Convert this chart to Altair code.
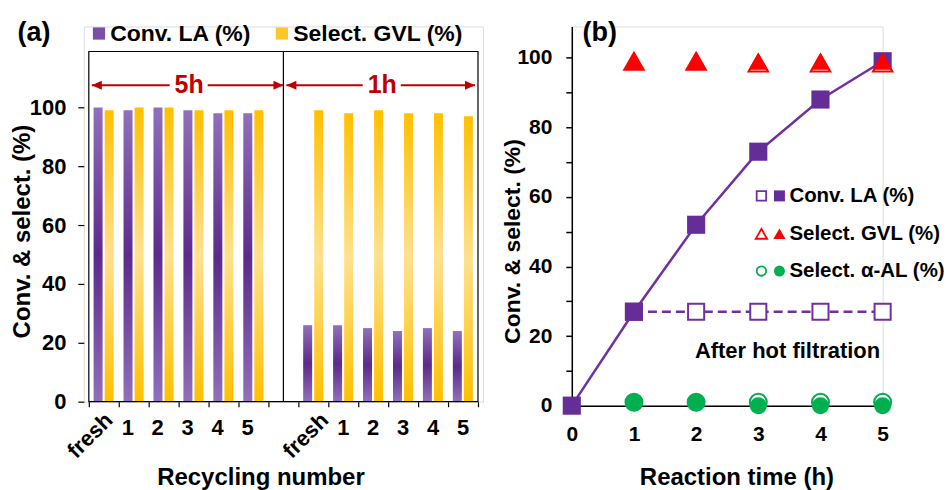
import altair as alt
import pandas as pd

# ---------------- data ----------------
categories = ["fresh", "1", "2", "3", "4", "5"]
groups = ["5h", "1h"]
conv_la_5h = [100, 99, 100, 99, 98, 98]
select_gvl_5h = [99, 100, 100, 99, 99, 99]
conv_la_1h = [26, 26, 25, 24, 25, 24]
select_gvl_1h = [99, 98, 99, 98, 98, 97]

time_h = [0, 1, 2, 3, 4, 5]
conv_la_time = [0, 27, 52, 73, 88, 99]
hot_time = [1, 2, 3, 4, 5]
conv_la_hot = [27, 27, 27, 27, 27]
sel_time = [1, 2, 3, 4, 5]
select_gvl_filled = [99, 99, 99, 99, 99]
select_gvl_open = [99, 99, 98.5, 98.5, 98.5]
select_al_filled = [1, 1, 0, 0, 0]
select_al_open = [1, 1, 1, 1, 1]

legend_a_labels = ["Conv. LA (%)", "Select. GVL (%)"]
legend_b_labels = ["Conv. LA (%)", "Select. GVL (%)", "Select. α-AL (%)"]

# ---------------- style ----------------
FONT = "Liberation Sans"
PURPLE = "#652d98"
PURPLE_LINE = "#7030a0"
RED = "#ff0000"
GREEN = "#00b050"
DARKRED = "#c00000"

purple_grad = alt.Gradient(
    gradient="linear", x1=0, y1=0, x2=0, y2=1,
    stops=[alt.GradientStop(color="#9070bb", offset=0),
           alt.GradientStop(color="#5c2a8c", offset=0.5),
           alt.GradientStop(color="#9070bb", offset=1)])
yellow_grad = alt.Gradient(
    gradient="linear", x1=0, y1=0, x2=0, y2=1,
    stops=[alt.GradientStop(color="#ffc000", offset=0),
           alt.GradientStop(color="#ffe18e", offset=0.5),
           alt.GradientStop(color="#ffc000", offset=1)])

# ---------------- panel (a) ----------------
SLOT = len(categories) + 1
N_SLOTS = SLOT * len(groups) - 1
FRAME_TOP = 119
ARROW_Y = 107.5
LEG_Y = 125.1

conv_rows, sel_rows, num_rows, fresh_rows = [], [], [], []
for gi, (conv, sel) in enumerate(zip([conv_la_5h, conv_la_1h], [select_gvl_5h, select_gvl_1h])):
    lab_off = 0.3 if gi == 0 else 0.5
    for ci, c in enumerate(categories):
        slot = gi * SLOT + ci
        conv_rows.append({"x": slot + 0.31, "y": conv[ci]})
        sel_rows.append({"x": slot + 0.68, "y": sel[ci]})
        if c == "fresh":
            fresh_rows.append({"x": slot + lab_off + 0.38, "label": c})
        else:
            num_rows.append({"x": slot + lab_off, "label": c})

conv_df = pd.DataFrame(conv_rows)
sel_df = pd.DataFrame(sel_rows)
num_df = pd.DataFrame(num_rows)
fresh_df = pd.DataFrame(fresh_rows)

arrow_seg, arrow_l, arrow_r, arrow_txt = [], [], [], []
for gi, g in enumerate(groups):
    start = gi * SLOT + (0.1 if gi == 0 else -0.4)
    end = gi * SLOT + SLOT - 0.5 if gi == 0 else N_SLOTS - 0.1
    mid = (start + end) / 2 + 0.05
    arrow_seg.append({"x": start, "x2": mid - 0.65, "y": ARROW_Y})
    arrow_seg.append({"x": mid + 0.62, "x2": end, "y": ARROW_Y})
    arrow_l.append({"x": start, "y": ARROW_Y})
    arrow_r.append({"x": end, "y": ARROW_Y})
    arrow_txt.append({"x": mid, "y": ARROW_Y, "label": g})

xs_a = alt.Scale(domain=[0, N_SLOTS], nice=False, zero=False)
ys_a = alt.Scale(domain=[0, 127.5], nice=False, zero=False)
x_axis_a = alt.Axis(values=list(range(N_SLOTS + 1)), labels=False, domain=False,
                    tickSize=5, tickColor="black", tickWidth=1.2, grid=False,
                    title="Recycling number", titleFontSize=24, titleFont=FONT,
                    titleFontWeight="bold", titleColor="black",
                    titleX=177, titleY=83, titleBaseline="alphabetic")
y_axis_a = alt.Axis(values=[0, 20, 40, 60, 80, 100], domain=False, grid=False,
                    tickSize=6, tickColor="black", tickWidth=1.2,
                    labelFontSize=22, labelFont=FONT, labelFontWeight="bold",
                    labelColor="black", labelPadding=12,
                    title="Conv. & select. (%)", titleFontSize=24, titleFont=FONT,
                    titleFontWeight="bold", titleColor="black", titleAngle=270,
                    titleX=-61, titleY=205, titleBaseline="middle", titleAlign="center")


def XA(f="x"):
    return alt.X(f, type="quantitative", scale=xs_a, axis=x_axis_a)


def YA(f="y"):
    return alt.Y(f, type="quantitative", scale=ys_a, axis=y_axis_a)


frame = alt.Chart(pd.DataFrame({"x": [0], "x2": [N_SLOTS], "y": [0], "y2": [FRAME_TOP]})).mark_rect(
    fillOpacity=0, stroke="black", strokeWidth=1.2).encode(
    x=XA(), x2="x2", y=YA(), y2="y2")

divider = alt.Chart(pd.DataFrame({"x": [SLOT - 0.5], "y": [0], "y2": [FRAME_TOP]})).mark_rule(
    color="black", strokeWidth=1.2).encode(x=XA(), y=YA(), y2="y2")

bars_conv = alt.Chart(conv_df).mark_bar(size=9, fill=purple_grad).encode(x=XA(), y=YA())
bars_sel = alt.Chart(sel_df).mark_bar(size=9, fill=yellow_grad).encode(x=XA(), y=YA())

arrow_lines = alt.Chart(pd.DataFrame(arrow_seg)).mark_rule(color=DARKRED, strokeWidth=2).encode(
    x=XA(), x2="x2", y=YA())
head_left = alt.Chart(pd.DataFrame(arrow_l)).mark_point(
    shape="M0,0L1,-0.45L1,0.45Z", filled=True, fill=DARKRED, strokeWidth=0, size=400, opacity=1).encode(
    x=XA(), y=YA())
head_right = alt.Chart(pd.DataFrame(arrow_r)).mark_point(
    shape="M0,0L-1,-0.45L-1,0.45Z", filled=True, fill=DARKRED, strokeWidth=0, size=400, opacity=1).encode(
    x=XA(), y=YA())
arrow_text = alt.Chart(pd.DataFrame(arrow_txt)).mark_text(
    font=FONT, fontWeight="bold", fontSize=25, color=DARKRED, align="center", baseline="middle").encode(
    x=XA(), y=YA(), text="label:N")

leg_a_df = pd.DataFrame({"x": [0.34, 6.45], "tx": [0.715, 6.83], "y": [LEG_Y, LEG_Y],
                         "label": legend_a_labels})
leg_a_sq1 = alt.Chart(leg_a_df.iloc[[0]]).mark_point(
    shape="square", filled=True, fill="#7a4ea8", size=150, opacity=1, strokeWidth=0).encode(x=XA(), y=YA())
leg_a_sq2 = alt.Chart(leg_a_df.iloc[[1]]).mark_point(
    shape="square", filled=True, fill="#ffc82a", size=150, opacity=1, strokeWidth=0).encode(x=XA(), y=YA())
leg_a_txt = alt.Chart(leg_a_df).mark_text(
    font=FONT, fontWeight="bold", fontSize=23, color="black", align="left", baseline="middle").encode(
    x=XA("tx"), y=YA(), text="label:N")

num_labels = alt.Chart(num_df).mark_text(
    font=FONT, fontWeight="bold", fontSize=22, color="black", align="center", baseline="middle").encode(
    x=XA(), y=alt.value(402), text="label:N")
fresh_labels = alt.Chart(fresh_df).mark_text(
    font=FONT, fontWeight="bold", fontSize=22, color="black", align="right", baseline="middle",
    angle=315).encode(x=XA(), y=alt.value(391), text="label:N")

label_a = alt.Chart(pd.DataFrame({"t": ["(a)"]})).mark_text(
    font=FONT, fontWeight="bold", fontSize=27, color="black", align="center", baseline="middle").encode(
    x=alt.value(-50), y=alt.value(7), text="t:N")

panel_a = alt.layer(
    bars_conv, bars_sel, frame, divider, arrow_lines, head_left, head_right, arrow_text,
    leg_a_sq1, leg_a_sq2, leg_a_txt, num_labels, fresh_labels, label_a
).properties(width=400, height=376)

# ---------------- panel (b) ----------------
xs_b = alt.Scale(domain=[0, 5], nice=False, zero=False)
ys_b = alt.Scale(domain=[0, 109], nice=False, zero=False)
x_axis_b = alt.Axis(values=[0, 1, 2, 3, 4, 5], grid=False, domainColor="black", domainWidth=1.5,
                    tickColor="black", tickWidth=1.5, tickSize=5, labelFlush=False,
                    labelFontSize=21, labelFont=FONT, labelFontWeight="bold", labelColor="black",
                    labelPadding=13,
                    title="Reaction time (h)", titleFontSize=24, titleFont=FONT,
                    titleFontWeight="bold", titleColor="black",
                    titleX=165, titleY=79, titleBaseline="alphabetic")
y_axis_b = alt.Axis(values=list(range(0, 101, 10)), grid=False, domainColor="black", domainWidth=1.5,
                    tickColor="black", tickWidth=1.5, tickSize=6,
                    labelExpr="datum.value % 20 === 0 ? datum.label : ''",
                    labelFontSize=21, labelFont=FONT, labelFontWeight="bold", labelColor="black",
                    labelPadding=14,
                    title="Conv. & select. (%)", titleFontSize=23, titleFont=FONT,
                    titleFontWeight="bold", titleColor="black", titleAngle=270,
                    titleX=-59, titleY=215, titleBaseline="middle", titleAlign="center")


def XB(f="x"):
    return alt.X(f, type="quantitative", scale=xs_b, axis=x_axis_b)


def YB(f="y"):
    return alt.Y(f, type="quantitative", scale=ys_b, axis=y_axis_b)


conv_t_df = pd.DataFrame({"x": time_h, "y": conv_la_time})
hot_df = pd.DataFrame({"x": hot_time, "y": conv_la_hot})
gvl_f_df = pd.DataFrame({"x": sel_time, "y": select_gvl_filled})
gvl_o_df = pd.DataFrame({"x": sel_time, "y": select_gvl_open})
al_f_df = pd.DataFrame({"x": sel_time, "y": select_al_filled})
al_o_df = pd.DataFrame({"x": sel_time, "y": select_al_open})

line_conv = alt.Chart(conv_t_df).mark_line(color=PURPLE_LINE, strokeWidth=2.5).encode(x=XB(), y=YB())
line_hot = alt.Chart(hot_df).mark_line(color=PURPLE_LINE, strokeWidth=2.5, strokeDash=[9, 5]).encode(
    x=XB(), y=YB())
pts_hot = alt.Chart(hot_df).mark_point(shape="square", size=260, fill="white", filled=False,
                                       fillOpacity=1, stroke=PURPLE_LINE, strokeWidth=2, opacity=1).encode(
    x=XB(), y=YB())
pts_conv = alt.Chart(conv_t_df).mark_point(shape="square", size=330, filled=True, fill=PURPLE,
                                           strokeWidth=0, opacity=1).encode(x=XB(), y=YB())
pts_gvl_o = alt.Chart(gvl_o_df).mark_point(shape="triangle-up", size=380, fill="white", filled=False,
                                           fillOpacity=1, stroke=RED, strokeWidth=2, opacity=1).encode(
    x=XB(), y=YB())
pts_gvl_f = alt.Chart(gvl_f_df).mark_point(shape="triangle-up", size=380, filled=True, fill=RED,
                                           strokeWidth=0, opacity=1).encode(x=XB(), y=YB())
pts_al_o = alt.Chart(al_o_df).mark_point(shape="circle", size=290, fill="white", filled=False,
                                         fillOpacity=1, stroke=GREEN, strokeWidth=2, opacity=1).encode(
    x=XB(), y=YB())
pts_al_f = alt.Chart(al_f_df).mark_point(shape="circle", size=290, filled=True, fill=GREEN,
                                         strokeWidth=0, opacity=1).encode(x=XB(), y=YB())

leg_y = [60.3, 49.4, 38.7]
leg_b_df = pd.DataFrame({"xo": [3.05] * 3, "xf": [3.34] * 3, "tx": [3.5] * 3, "y": leg_y,
                         "label": legend_b_labels})
leg_sq_o = alt.Chart(leg_b_df.iloc[[0]]).mark_point(shape="square", size=90, fill="white", filled=False,
                                                    fillOpacity=1, stroke=PURPLE_LINE, strokeWidth=1.8,
                                                    opacity=1).encode(x=XB("xo"), y=YB())
leg_sq_f = alt.Chart(leg_b_df.iloc[[0]]).mark_point(shape="square", size=121, filled=True, fill=PURPLE,
                                                    strokeWidth=0, opacity=1).encode(x=XB("xf"), y=YB())
leg_tr_o = alt.Chart(leg_b_df.iloc[[1]]).mark_point(shape="triangle-up", size=130, fill="white",
                                                    filled=False, fillOpacity=1, stroke=RED,
                                                    strokeWidth=1.8, opacity=1).encode(x=XB("xo"), y=YB())
leg_tr_f = alt.Chart(leg_b_df.iloc[[1]]).mark_point(shape="triangle-up", size=150, filled=True, fill=RED,
                                                    strokeWidth=0, opacity=1).encode(x=XB("xf"), y=YB())
leg_ci_o = alt.Chart(leg_b_df.iloc[[2]]).mark_point(shape="circle", size=90, fill="white", filled=False,
                                                    fillOpacity=1, stroke=GREEN, strokeWidth=1.8,
                                                    opacity=1).encode(x=XB("xo"), y=YB())
leg_ci_f = alt.Chart(leg_b_df.iloc[[2]]).mark_point(shape="circle", size=121, filled=True, fill=GREEN,
                                                    strokeWidth=0, opacity=1).encode(x=XB("xf"), y=YB())
leg_b_txt = alt.Chart(leg_b_df).mark_text(font=FONT, fontWeight="bold", fontSize=20.5, color="black",
                                          align="left", baseline="middle").encode(
    x=XB("tx"), y=YB(), text="label:N")

note = alt.Chart(pd.DataFrame({"x": [3.47], "y": [15.8], "t": ["After hot filtration"]})).mark_text(
    font=FONT, fontWeight="bold", fontSize=22, color="black", align="center", baseline="middle").encode(
    x=XB(), y=YB(), text="t:N")

label_b = alt.Chart(pd.DataFrame({"t": ["(b)"]})).mark_text(
    font=FONT, fontWeight="bold", fontSize=27, color="black", align="center", baseline="middle").encode(
    x=alt.value(28), y=alt.value(7), text="t:N")

panel_b = alt.layer(
    line_conv, line_hot, pts_hot, pts_conv, pts_gvl_o, pts_gvl_f, pts_al_o, pts_al_f,
    leg_sq_o, leg_sq_f, leg_tr_o, leg_tr_f, leg_ci_o, leg_ci_f, leg_b_txt, note, label_b
).properties(width=311.5, height=380)

chart = alt.hconcat(panel_a, panel_b, spacing=17).configure_view(stroke=None).configure(
    font=FONT, padding={"left": 10, "top": 18, "right": 0, "bottom": 0}, background="white")

chart.save("out.html", embed_options={"renderer": "svg", "actions": False})
